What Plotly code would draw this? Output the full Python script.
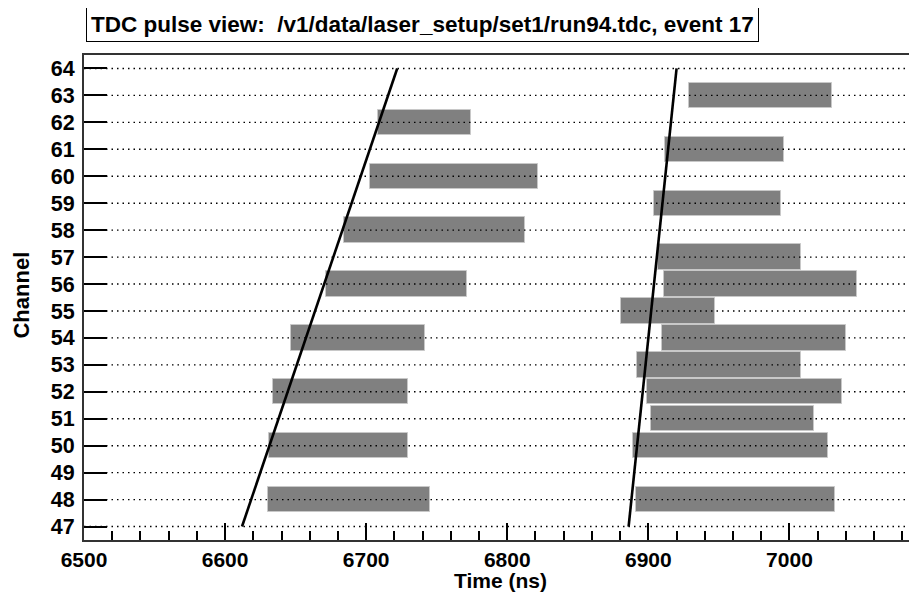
import plotly.graph_objects as go

# ---- data ----
channels = list(range(47, 65))
left_ch = [62, 60, 58, 56, 54, 52, 50, 48]
left_start = [6708.5, 6702.8, 6684.4, 6671.3, 6647.0, 6634.3, 6631.4, 6630.3]
left_end = [6774.5, 6821.5, 6812.5, 6771.4, 6742.0, 6729.3, 6729.3, 6744.9]

right_ch = [63, 61, 59, 57, 56, 55, 54, 53, 52, 51, 50, 48]
right_start = [6928.6, 6912.0, 6904.0, 6906.9, 6910.9, 6880.4, 6909.7, 6892.2, 6899.0, 6901.9, 6889.4, 6891.0]
right_end = [7030.2, 6996.0, 6994.0, 7008.0, 7048.0, 6947.0, 7040.2, 7008.0, 7037.3, 7017.7, 7027.4, 7032.4]

fit1_t = [6612, 6722]
fit1_ch = [47, 64]
fit2_t = [6886, 6920]
fit2_ch = [47, 64]

x_range = [6500, 7090.4]
y_range = [46.5, 64.5]
title_text = "TDC pulse view: \u00a0/v1/data/laser_setup/set1/run94.tdc, event 17"
x_title = "Time (ns)"
y_title = "Channel"

FONT = "Liberation Sans"

# the page body has an 8px default margin; size the figure so it fills the 917x592 window
PAGE_OFF = 8
W, H = 917 - PAGE_OFF, 592 - PAGE_OFF
ML, MT, MB = 83.5 - PAGE_OFF, 55 - PAGE_OFF, 52
PW, PH = W - ML, H - MT - MB

fig = go.Figure()

all_ch = left_ch + right_ch
all_start = left_start + right_start
all_end = left_end + right_end
fig.add_trace(go.Bar(
    orientation="h",
    y=all_ch,
    base=all_start,
    x=[e - s for s, e in zip(all_start, all_end)],
    width=0.94,
    marker=dict(color="#808080", line=dict(color="#c8c8c8", width=1)),
    hoverinfo="skip",
))

# dotted channel grid lines (above bars)
gx, gy = [], []
for c in channels:
    gx += [x_range[0], x_range[1], None]
    gy += [c, c, None]
fig.add_trace(go.Scatter(x=gx, y=gy, mode="lines",
                         line=dict(color="black", width=1.4, dash="1.5px,4px"),
                         hoverinfo="skip"))

for t, c in [(fit1_t, fit1_ch), (fit2_t, fit2_ch)]:
    fig.add_trace(go.Scatter(x=t, y=c, mode="lines",
                             line=dict(color="black", width=2.6),
                             hoverinfo="skip"))

fig.update_layout(
    width=W, height=H,
    margin=dict(l=ML, r=0, t=MT, b=MB, pad=0, autoexpand=False),
    plot_bgcolor="white", paper_bgcolor="white",
    showlegend=False,
    font=dict(family=FONT, color="black", size=21, weight="bold"),
    bargap=0,
)

fig.update_xaxes(
    range=x_range, dtick=100, tick0=6500,
    ticks="inside", ticklen=17, tickwidth=1.5, tickcolor="black",
    minor=dict(dtick=20, ticks="inside", ticklen=9, tickwidth=1.5, tickcolor="black", showgrid=False),
    showline=True, linecolor="#333", linewidth=2, mirror=True,
    showgrid=False, zeroline=False, automargin=False,
    tickfont=dict(family=FONT, size=21, weight="bold"),
)
fig.update_yaxes(
    range=y_range, tickvals=channels,
    ticks="inside", ticklen=23, tickwidth=2, tickcolor="black",
    showline=True, linecolor="#333", linewidth=2,
    showgrid=False, zeroline=False, automargin=False,
    tickfont=dict(family=FONT, size=21.5, weight="bold"),
    ticklabelstandoff=3,
)

fig.add_annotation(
    text=x_title, xref="paper", yref="paper",
    x=(500 - 83.5) / PW, y=(540 - 580) / PH, xanchor="center", yanchor="middle",
    showarrow=False, font=dict(family=FONT, size=21, weight="bold", color="black"),
)
fig.add_annotation(
    text=y_title, xref="paper", yref="paper", textangle=-90,
    x=(20 - 83.5) / PW, y=(540 - 295) / PH, xanchor="center", yanchor="middle",
    showarrow=False, font=dict(family=FONT, size=22, weight="bold", color="black"),
)

fig.add_annotation(
    text=title_text, xref="paper", yref="paper",
    x=0.002, y=1 + 13 / PH, xanchor="left", yanchor="bottom",
    showarrow=False, align="left",
    font=dict(family=FONT, size=22.5, weight="bold", color="black"),
    bordercolor="black", borderwidth=1, borderpad=4, bgcolor="white",
)

fig.write_html("out.html")
